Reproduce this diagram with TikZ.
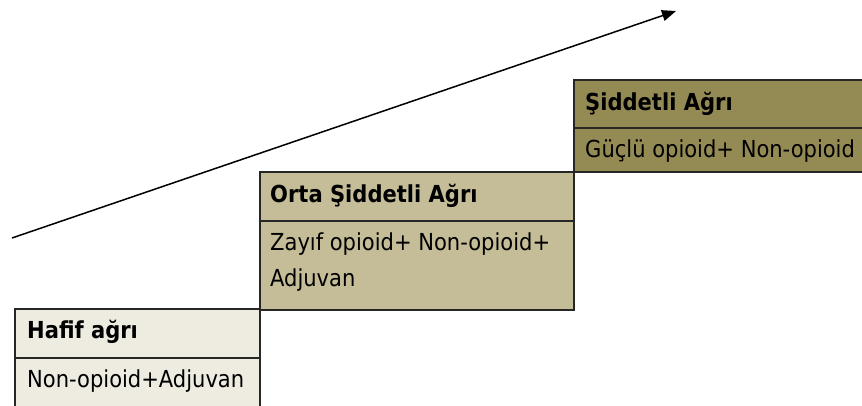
\documentclass[tikz,border=0pt]{standalone}
\usepackage{fontspec}
\setmainfont{DejaVu Sans Condensed}
\usetikzlibrary{arrows.meta}
\definecolor{lvlone}{HTML}{EEECE1}
\definecolor{lvltwo}{HTML}{C4BD97}
\definecolor{lvlthree}{HTML}{948A54}
\tikzset{
  cell/.style={draw=black!85, line width=1.2pt, inner sep=0pt, outer sep=0pt},
  ttl/.style={anchor=west, inner sep=0pt, font=\fontsize{23.4}{28}\selectfont\bfseries},
  txt/.style={anchor=west, inner sep=0pt, align=left, font=\fontsize{23.4}{36}\selectfont},
}
\begin{document}
\begin{tikzpicture}[x=1pt,y=-1pt]
\useasboundingbox (0,0) rectangle (862,405);
% level 1
\path[cell, fill=lvlone] (15,309) rectangle (260,410);
\draw[black!85, line width=1.2pt] (15,358) -- (260,358);
\node[ttl] (t1) at (27,332) {Hafif ağrı};
\node[txt] (b1) at (27,381) {Non-opioid+Adjuvan};
% level 2
\path[cell, fill=lvltwo] (260,172) rectangle (574,310);
\draw[black!85, line width=1.2pt] (260,221) -- (574,221);
\node[ttl] (t2) at (270,196) {Orta Şiddetli Ağrı};
\node[txt] (b2) at (270,262) {Zayıf opioid+ Non-opioid+\\Adjuvan};
% level 3
\path[cell, fill=lvlthree] (574,80) rectangle (870,172);
\draw[black!85, line width=1.2pt] (574,128) -- (870,128);
\node[ttl] (t3) at (585,104) {Şiddetli Ağrı};
\node[txt] (b3) at (585,151) {Güçlü opioid+ Non-opioid};
% arrow
\coordinate (as) at (12,238);
\coordinate (ae) at (676,11);
\draw[line width=1.5pt, -{Triangle[length=14pt,width=11pt]}] (as) -- (ae);
\end{tikzpicture}
\end{document}
